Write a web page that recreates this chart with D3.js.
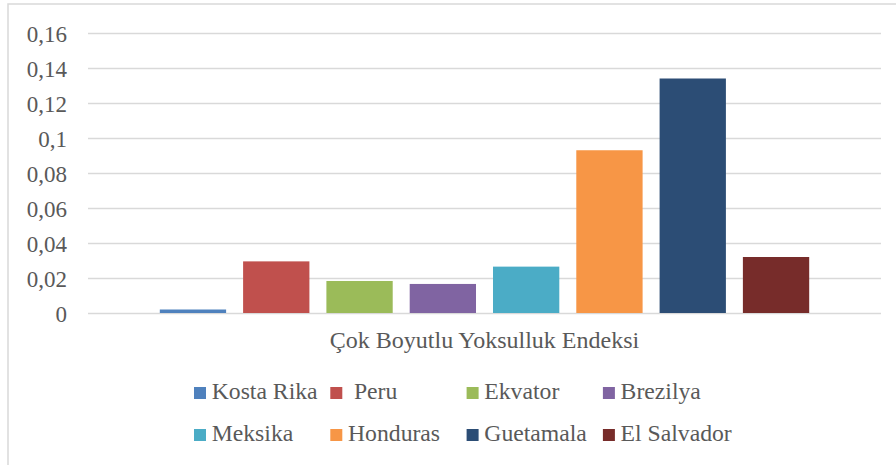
<!DOCTYPE html>
<html>
<head>
<meta charset="utf-8">
<script src="https://cdn.jsdelivr.net/npm/d3@7"></script>
<style>
  html, body { margin: 0; padding: 0; background: #fff; }
  svg { display: block; }
</style>
</head>
<body>
<svg id="chart" width="896" height="465"></svg>
<script>
// ---- data ----
const category = "Çok Boyutlu Yoksulluk Endeksi";
const seriesNames = ["Kosta Rika", " Peru", "Ekvator", "Brezilya", "Meksika", "Honduras", "Guetamala", "El Salvador"];
const seriesValues = [0.002, 0.0295, 0.0183, 0.0166, 0.0265, 0.093, 0.134, 0.032];
const seriesColors = ["#4F81BD", "#C0504D", "#9BBB59", "#8064A2", "#4BACC6", "#F79646", "#2C4D75", "#772C2A"];
const tickValues = [0, 0.02, 0.04, 0.06, 0.08, 0.1, 0.12, 0.14, 0.16];
const tickLabels = ["0", "0,02", "0,04", "0,06", "0,08", "0,1", "0,12", "0,14", "0,16"];

// ---- layout ----
const W = 896, H = 465;
const plot = { left: 88, right: 881, top: 33, bottom: 313 };
const tickFont = 23, labelFont = 24, legendFont = 23.7;
const grid = "#d9d9d9";
const FONT = "'Liberation Serif'";
const TXT = "#595959";

const svg = d3.select("#chart");

// frame (top and left edges visible)
svg.append("path")
  .attr("d", `M8,${H} L8,4 L${W},4`)
  .attr("fill", "none").attr("stroke", grid).attr("stroke-width", 1.5);

const y = d3.scaleLinear().domain([0, 0.16]).range([plot.bottom, plot.top]);
const x = d3.scaleBand().domain(seriesNames)
  .range([plot.left, plot.right])
  .paddingInner(0.204).paddingOuter(0.862);

// y axis + gridlines
const yAxis = d3.axisLeft(y)
  .tickValues(tickValues)
  .tickFormat((d, i) => tickLabels[i])
  .tickSize(-(plot.right - plot.left))
  .tickPadding(21);

const ag = svg.append("g").attr("transform", `translate(${plot.left},0)`).call(yAxis);
ag.attr("font-family", null).attr("font-size", null);
ag.select(".domain").remove();
ag.selectAll(".tick line").attr("stroke", grid).attr("stroke-width", 1.5);
ag.selectAll(".tick text")
  .style("font-family", FONT)
  .attr("font-size", tickFont)
  .style("fill", TXT)
  .attr("dy", "0.36em");

// bars
svg.append("g").selectAll("rect")
  .data(seriesValues)
  .join("rect")
  .attr("x", (d, i) => x(seriesNames[i]))
  .attr("width", x.bandwidth())
  .attr("y", d => y(d))
  .attr("height", d => y(0) - y(d))
  .attr("fill", (d, i) => seriesColors[i]);

// category label
svg.append("text")
  .attr("x", (plot.left + plot.right) / 2)
  .attr("y", 348)
  .attr("text-anchor", "middle")
  .style("font-family", FONT)
  .attr("font-size", labelFont)
  .style("fill", TXT)
  .text(category);

// legend
const legCols = 4, legX0 = 194, legColW = 136.3, legRowY = [387, 429], sq = 12;
const lg = svg.append("g").selectAll("g")
  .data(seriesNames)
  .join("g")
  .attr("transform", (d, i) => `translate(${legX0 + (i % legCols) * legColW},${legRowY[Math.floor(i / legCols)]})`);
lg.append("rect")
  .attr("width", sq).attr("height", sq)
  .attr("fill", (d, i) => seriesColors[i]);
lg.append("text")
  .attr("x", 17.7)
  .attr("y", 12.3)
  .style("font-family", FONT)
  .attr("font-size", legendFont)
  .style("fill", TXT)
  .style("white-space", "pre")
  .text(d => d);
</script>
</body>
</html>
